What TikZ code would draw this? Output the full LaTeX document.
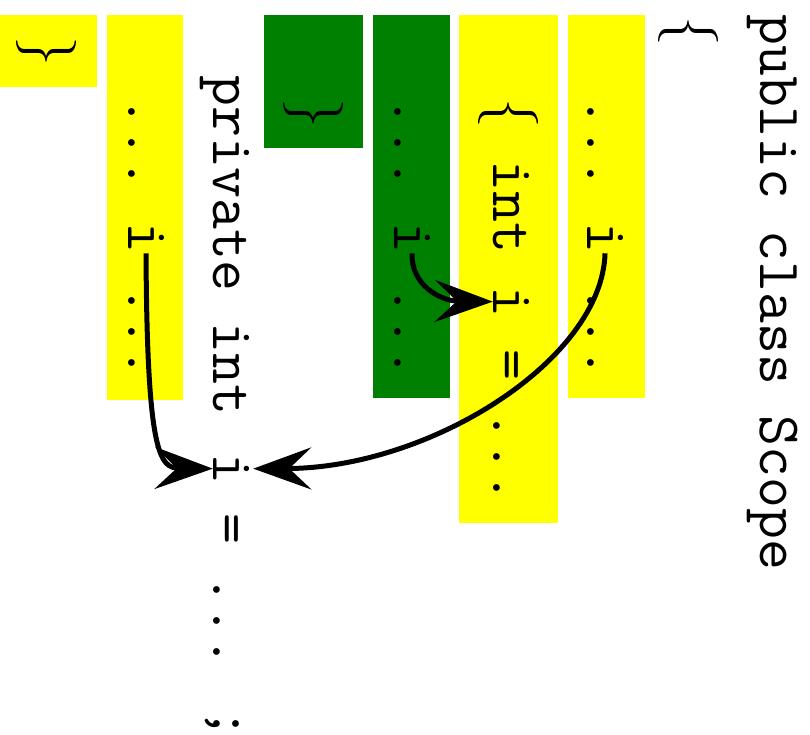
\RequirePackage{fix-cm}
\documentclass[tikz,border=0pt]{standalone}
\usetikzlibrary{arrows.meta}
\definecolor{boxyellow}{RGB}{255,255,0}
\definecolor{boxgreen}{RGB}{0,128,0}
\tikzset{
  code/.style={rotate=-90, anchor=base west, inner sep=0pt, font=\ttfamily\fontsize{60}{70}\selectfont},
  conn/.style={line width=5pt, -{Stealth[length=58pt,width=42pt,inset=22pt]}},
}
\begin{document}
\begin{tikzpicture}[x=1pt,y=-1pt]
\useasboundingbox (0,0) rectangle (810,734);
% background boxes
\fill[boxyellow] (0,15) rectangle (97,87);
\fill[boxyellow] (107,15) rectangle (183,400);
\fill[boxgreen] (264,15) rectangle (363,148);
\fill[boxgreen] (373,15) rectangle (450,398);
\fill[boxyellow] (459,15) rectangle (558,523);
\fill[boxyellow] (568,15) rectangle (645,398);
% line 1-2
\node[code] (l1) at (760,14) {public class Scope};
\node[code] (l2) at (673,16) {$\{$};
% line 3
\node[code] (a3) at (587,96) {...};
\node[code] (i3) at (587,222) {i};
\node[code] (b3) at (587,285) {...};
% line 4
\node[code] (a4) at (493,98) {$\{$};
\node[code] (n4) at (493,160) {int};
\node[code] (i4) at (493,286) {i};
\node[code] (b4) at (493,349) {= ...};
% line 5
\node[code] (a5) at (394,96) {...};
\node[code] (i5) at (394,222) {i};
\node[code] (b5) at (394,285) {...};
% line 6
\node[code] (l6) at (298,98) {$\}$};
% line 7
\node[code] (a7) at (213,75) {private int};
\node[code] (i7) at (213,453) {i};
\node[code] (b7) at (213,513) {= ... ;};
% line 8
\node[code] (a8) at (128,96) {...};
\node[code] (i8) at (128,222) {i};
\node[code] (b8) at (128,285) {...};
% line 9
\node[code] (l9) at (31,36) {$\}$};
% connectors
\draw[conn] (i3.east) .. controls (602,360) and (430,468) .. ([xshift=4pt]i7.north);
\draw[conn] (i5.east) .. controls (411,285) and (440,301) .. (i4.south);
\draw[conn] (i8.east) .. controls (147,455) and (160,468) .. (i7.south);
\end{tikzpicture}
\end{document}
